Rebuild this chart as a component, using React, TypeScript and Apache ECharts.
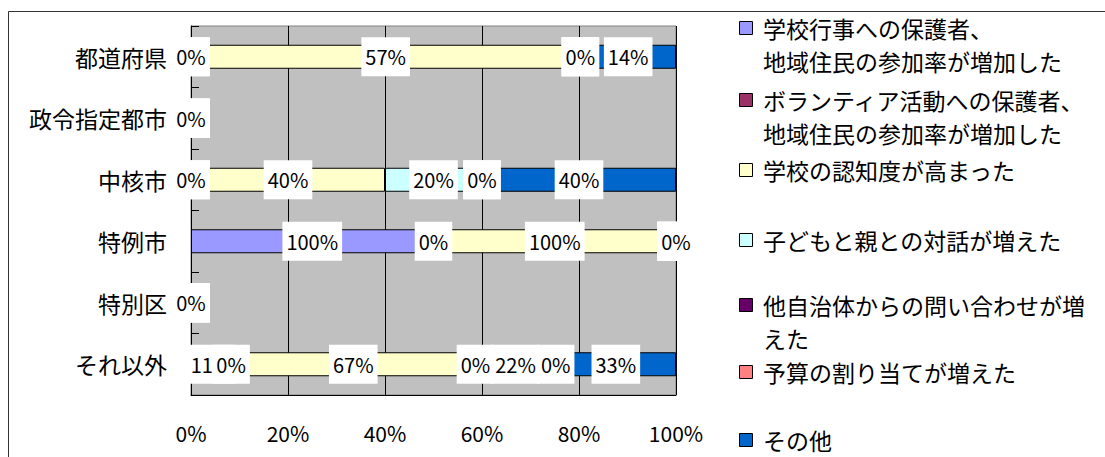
import { useEffect, useRef } from "react";
import * as echarts from "echarts";

const FONT = "'Noto Sans CJK JP', sans-serif";

const categories = ["都道府県", "政令指定都市", "中核市", "特例市", "特別区", "それ以外"];

const seriesNames = [
  "学校行事への保護者、地域住民の参加率が増加した",
  "ボランティア活動への保護者、地域住民の参加率が増加した",
  "学校の認知度が高まった",
  "子どもと親との対話が増えた",
  "他自治体からの問い合わせが増えた",
  "予算の割り当てが増えた",
  "その他",
];

// Legend text, wrapped the way it is shown beside the plot
const legendLabels = [
  "学校行事への保護者、\n地域住民の参加率が増加した",
  "ボランティア活動への保護者、\n地域住民の参加率が増加した",
  "学校の認知度が高まった",
  "子どもと親との対話が増えた",
  "他自治体からの問い合わせが増\nえた",
  "予算の割り当てが増えた",
  "その他",
];

const seriesColors = ["#9999FF", "#993366", "#FFFFCC", "#CCFFFF", "#660066", "#FF8080", "#0066CC"];

// Share of respondents (%) choosing each effect, per category (multiple answers allowed)
const schoolEvents = [0, 0, 0, 100, 0, 11];
const volunteering = [0, 0, 0, 0, 0, 0];
const recognition = [57, 0, 40, 100, 0, 67];
const familyTalk = [0, 0, 20, 0, 0, 0];
const inquiries = [0, 0, 0, 0, 0, 22];
const budget = [0, 0, 0, 0, 0, 0];
const other = [14, 0, 40, 0, 0, 33];

const seriesValues = [schoolEvents, volunteering, recognition, familyTalk, inquiries, budget, other];

// Vertical centre of the first line of each legend row
const legendRowY = [28, 100, 170, 240, 305, 372, 440];
const LEGEND_LINE = 33;

export default function App() {
  const ref = useRef<HTMLDivElement>(null);

  useEffect(() => {
    document.body.style.margin = "0";
    document.body.style.overflow = "hidden";
    if (!ref.current) return;
    const chart = echarts.init(ref.current, undefined, { renderer: "svg" });

    // Bars are stacked as a 100% stack: each category's answers are scaled by their sum
    const rowTotals = categories.map((_, ci) =>
      seriesValues.reduce((s, vals) => s + vals[ci], 0)
    );

    const series = seriesValues.map((vals, si) => ({
      name: seriesNames[si],
      type: "bar",
      stack: "total",
      barWidth: 24,
      itemStyle: { color: seriesColors[si], borderColor: "#000", borderWidth: 1 },
      label: {
        show: true,
        position: "inside",
        color: "#000",
        fontSize: 20,
        fontFamily: FONT,
        backgroundColor: "#fff",
        padding: [10, 4, 9, 4],
        formatter: (p: any) => `${p.data.raw}%`,
      },
      data: vals.map((v, ci) => ({
        value: rowTotals[ci] ? (v / rowTotals[ci]) * 100 : 0,
        raw: v,
      })),
    }));

    const legendGraphics = legendLabels.flatMap((label, i) => [
      {
        type: "rect",
        shape: { x: 739.5, y: legendRowY[i] - 6.5, width: 13, height: 13 },
        style: { fill: seriesColors[i], stroke: "#000", lineWidth: 1 },
        silent: true,
      },
      {
        type: "text",
        x: 763,
        y: legendRowY[i] - LEGEND_LINE / 2,
        style: {
          text: label,
          fontSize: 23,
          lineHeight: LEGEND_LINE,
          fontFamily: FONT,
          fill: "#000",
          align: "left",
          verticalAlign: "top",
        },
        silent: true,
      },
    ]);

    chart.setOption({
      animation: false,
      backgroundColor: "#fff",
      textStyle: { fontFamily: FONT },
      grid: {
        left: 191,
        top: 26,
        width: 485,
        height: 369,
        show: true,
        backgroundColor: "#C0C0C0",
        borderColor: "#808080",
        borderWidth: 1,
        containLabel: false,
      },
      xAxis: {
        type: "value",
        min: 0,
        max: 100,
        interval: 20,
        position: "bottom",
        axisLine: { show: true, lineStyle: { color: "#000", width: 1 } },
        axisTick: { show: true, inside: true, length: 5, lineStyle: { color: "#000" } },
        splitLine: { show: true, lineStyle: { color: "#000", width: 1 } },
        axisLabel: {
          formatter: "{value}%",
          fontSize: 21,
          color: "#000",
          margin: 27,
          fontFamily: FONT,
        },
      },
      yAxis: {
        type: "category",
        data: categories,
        inverse: true,
        axisLine: { show: true, lineStyle: { color: "#000", width: 1 } },
        axisTick: { show: true, inside: true, length: 8, lineStyle: { color: "#000" } },
        splitLine: { show: false },
        axisLabel: { fontSize: 23, color: "#000", margin: 24, fontFamily: FONT },
      },
      series,
      graphic: [
        {
          type: "rect",
          shape: { x: 8.5, y: 11.5, width: 1300, height: 700 },
          style: { fill: "none", stroke: "#333", lineWidth: 1 },
          silent: true,
        },
        ...legendGraphics,
      ],
    });

    return () => chart.dispose();
  }, []);

  return <div ref={ref} style={{ width: 1105, height: 457 }} />;
}
